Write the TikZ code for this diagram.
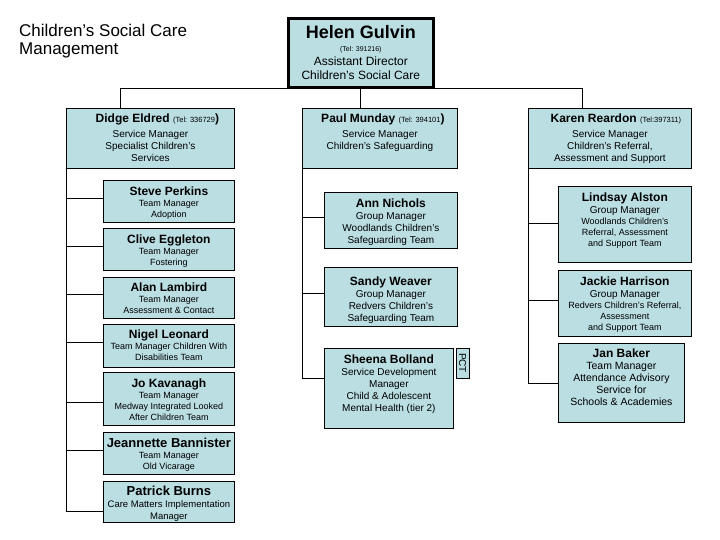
\documentclass[tikz,border=0pt]{standalone}
\usepackage{fontspec}
\setmainfont{Liberation Sans}
\definecolor{boxfill}{RGB}{186,222,226}
\newcommand\fs[2]{\fontsize{#1}{#2}\selectfont}
\tikzset{
  orgbox/.style={draw=black, line width=0.8pt, fill=boxfill, inner sep=0pt, anchor=north west},
  bossbox/.style={orgbox, line width=2.6pt},
  conn/.style={draw=black, line width=0.8pt},
  titletext/.style={anchor=base west, inner sep=0pt, font=\fs{17}{18}},
}
% name, x, y, width, height, content
\newcommand\orgnode[7][orgbox]{%
  \node[#1] (#2) at (#3,#4) {\parbox[t][#6pt][t]{#5pt}{\centering\parskip=0pt #7}};}
\newcommand\nm[3]{{\fs{#2}{#2}\rule{0pt}{#3pt}\textbf{#1}\par}}
\begin{document}
\begin{tikzpicture}[x=1pt,y=-1pt]
\useasboundingbox (0,0) rectangle (720,540);
\fill[white] (0,0) rectangle (720,540);

\node[titletext] (title1) at (19,37) {Children’s Social Care};
\node[titletext] (title2) at (19,55) {Management};

% top
\orgnode[bossbox]{helen}{287}{17}{145}{69}{%
  \nm{Helen Gulvin}{18}{20}%
  {\fs{7}{13}(Tel: 391216)\par}%
  {\fs{12}{14}Assistant Director\par Children's Social Care\par}}

% service managers
\orgnode{didge}{66}{108}{168}{60}{%
  {\fs{12}{12}\rule{0pt}{14pt}\hspace*{14pt}\textbf{Didge Eldred} {\fs{7.5}{7.5}(Tel: 336729}\textbf{)}\par}%
  {\fs{10}{15}Service Manager\par}{\fs{10}{12}Specialist Children's\par Services\par}}
\orgnode{paul}{302}{108}{155}{60}{%
  {\fs{12}{12}\rule{0pt}{14pt}\hspace*{6pt}\textbf{Paul Munday} {\fs{7.5}{7.5}(Tel: 394101}\textbf{)}\par}%
  {\fs{10}{15}Service Manager\par}{\fs{10}{12}Children's Safeguarding\par}}
\orgnode{karen}{528}{108}{163}{60}{%
  {\fs{12}{12}\rule{0pt}{14pt}\hspace*{12pt}\textbf{Karen Reardon} {\fs{7.5}{7.5}(Tel:397311)}\par}%
  {\fs{10}{15}Service Manager\par}{\fs{10}{12}Children's Referral,\par Assessment and Support\par}}

% left column
\orgnode{steve}{103}{180}{131}{42}{\nm{Steve Perkins}{12}{15}{\fs{9}{11}Team Manager\par Adoption\par}}
\orgnode{clive}{103}{228}{131}{42}{\nm{Clive Eggleton}{12}{15}{\fs{9}{11}Team Manager\par Fostering\par}}
\orgnode{alan}{103}{277}{131}{41}{\nm{Alan Lambird}{12}{14}{\fs{9}{11}Team Manager\par Assessment \& Contact\par}}
\orgnode{nigel}{103}{324}{131}{43}{\nm{Nigel Leonard}{12}{14}{\fs{9}{11}Team Manager Children With\par Disabilities Team\par}}
\orgnode{jo}{103}{372}{131}{53}{\nm{Jo Kavanagh}{12}{15}{\fs{9}{11}Team Manager\par Medway Integrated Looked\par After Children Team\par}}
\orgnode{jeannette}{103}{432}{131}{42}{\nm{Jeannette Bannister}{13}{15}{\fs{9}{11}Team Manager\par Old Vicarage\par}}
\orgnode{patrick}{103}{481}{131}{41}{\nm{Patrick Burns}{13}{14}{\fs{9.5}{12}Care Matters Implementation\par Manager\par}}

% middle column
\orgnode{ann}{324}{192}{133}{56}{\nm{Ann Nichols}{12}{15}{\fs{10}{12}Group Manager\par Woodlands Children's\par Safeguarding Team\par}}
\orgnode{sandy}{324}{267}{133}{59}{\nm{Sandy Weaver}{12}{18}{\fs{10}{12}Group Manager\par Redvers Children's\par Safeguarding Team\par}}
\orgnode{sheena}{324}{348}{129}{80}{\nm{Sheena Bolland}{12}{15}{\fs{10}{12}Service Development\par Manager\par Child \& Adolescent\par Mental Health (tier 2)\par}}
\node[draw=black, line width=0.8pt, fill=boxfill, inner sep=0pt, minimum width=30pt, minimum height=13pt, rotate=-90, font=\fs{10}{10}] (pct) at (462.5,363) {PCT};

% right column
\orgnode{lindsay}{558}{186}{133}{76}{\nm{Lindsay Alston}{12}{15}{\fs{10}{12}Group Manager\par}{\fs{9}{11}Woodlands Children's\par Referral, Assessment\par and Support Team\par}}
\orgnode{jackie}{558}{270}{133}{66}{\nm{Jackie Harrison}{12}{15}{\fs{10}{12}Group Manager\par}{\fs{9}{11}Redvers Children's Referral,\par Assessment\par and Support Team\par}}
\orgnode{jan}{558}{343}{126}{79}{\nm{Jan Baker}{12}{14}{\fs{10.5}{12}Team Manager\par Attendance Advisory\par Service for\par Schools \& Academies\par}}

% connectors from the top
\draw[conn] ([xshift=-30pt]didge.north) |- (helen.south);
\draw[conn] (helen.south) -- (helen.south |- paul.north);
\draw[conn] ([xshift=-27.5pt]karen.north) |- (helen.south);

% left column connectors
\draw[conn] (didge.south west) |- ([yshift=3pt]steve.west);
\draw[conn] (didge.south west) |- ([yshift=3pt]clive.west);
\draw[conn] (didge.south west) |- ([yshift=3.5pt]alan.west);
\draw[conn] (didge.south west) |- ([yshift=3.5pt]nigel.west);
\draw[conn] (didge.south west) |- ([yshift=-3.5pt]jo.west);
\draw[conn] (didge.south west) |- ([yshift=3pt]jeannette.west);
\draw[conn] (didge.south west) |- ([yshift=-9.5pt]patrick.west);

% middle column connectors
\draw[conn] (paul.south west) |- ([yshift=3pt]ann.west);
\draw[conn] (paul.south west) |- ([yshift=3.5pt]sandy.west);
\draw[conn] (paul.south west) |- ([yshift=10pt]sheena.west);

% right column connectors
\draw[conn] (karen.south west) |- ([yshift=1pt]lindsay.west);
\draw[conn] (karen.south west) |- ([yshift=3pt]jackie.west);
\draw[conn] (karen.south west) |- (jan.west);
\end{tikzpicture}
\end{document}
